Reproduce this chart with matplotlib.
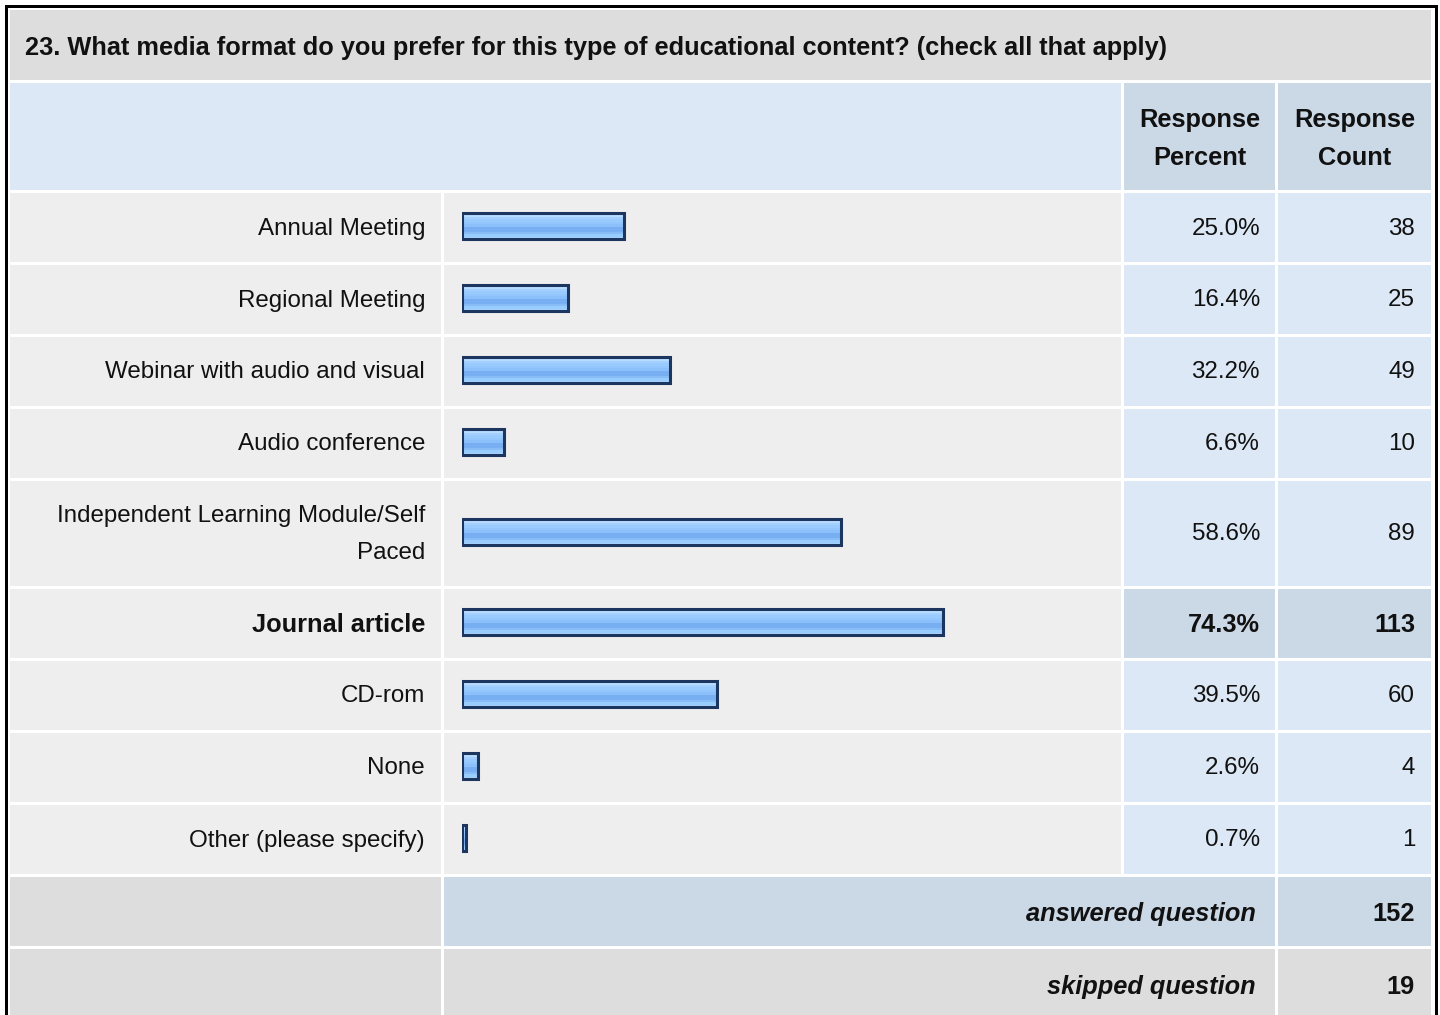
import matplotlib
matplotlib.use("Agg")
import matplotlib.pyplot as plt
from matplotlib.patches import Rectangle
import numpy as np

plt.rcParams['font.family'] = ['Liberation Sans', 'DejaVu Sans']

title = "23. What media format do you prefer for this type of educational content? (check all that apply)"
categories = ["Annual Meeting", "Regional Meeting", "Webinar with audio and visual",
              "Audio conference", "Independent Learning Module/Self\nPaced",
              "Journal article", "CD-rom", "None", "Other (please specify)"]
percents = [25.0, 16.4, 32.2, 6.6, 58.6, 74.3, 39.5, 2.6, 0.7]
counts = [38, 25, 49, 10, 89, 113, 60, 4, 1]
answered = 152
skipped = 19

W, H = 1440, 1015
fig = plt.figure(figsize=(W / 100, H / 100), dpi=100, facecolor="white")
ax = fig.add_axes([0, 0, 1, 1])
ax.set_xlim(0, W)
ax.set_ylim(H, 0)
ax.axis("off")

GREY = "#dddddd"
LIGHT = "#eeeeee"
BLUE = "#dce8f5"
BLUE2 = "#cbd8e6"
FS = 17.4
BFS = 18.3
TC = "#111111"

def cell(x0, x1, y0, y1, color):
    ax.add_patch(Rectangle((x0, y0), x1 - x0, y1 - y0, facecolor=color, edgecolor="none"))

C0 = (10, 441)
C1 = (444, 1121)
C2 = (1124, 1275)
C3 = (1278, 1431)

# title
cell(10, 1431, 10, 80, GREY)
ax.text(25, 48, title, fontsize=BFS, fontweight="bold", va="center", ha="left", color=TC)

# header
cell(10, 1121, 83, 190, BLUE)
cell(C2[0], C2[1], 83, 190, BLUE2)
cell(C3[0], C3[1], 83, 190, BLUE2)
for (c, l1, l2) in [(C2, "Response", "Percent"), (C3, "Response", "Count")]:
    xc = (c[0] + c[1]) / 2
    ax.text(xc, 120, l1, fontsize=BFS, fontweight="bold", ha="center", va="center", color=TC)
    ax.text(xc, 158, l2, fontsize=BFS, fontweight="bold", ha="center", va="center", color=TC)

row_tops = [193, 265, 337, 409, 481, 589, 661, 733, 805]
row_bots = [262, 334, 406, 478, 586, 658, 730, 802, 874]
imax = int(np.argmax(percents))
centers = []
for i, (t, b) in enumerate(zip(row_tops, row_bots)):
    cy = (t + b) / 2
    centers.append(cy - 1.5)
    cell(C0[0], C0[1], t, b, LIGHT)
    cell(C1[0], C1[1], t, b, LIGHT)
    hi = (i == imax)
    cell(C2[0], C2[1], t, b, BLUE2 if hi else BLUE)
    cell(C3[0], C3[1], t, b, BLUE2 if hi else BLUE)
    fw = "bold" if hi else "normal"
    fs = BFS if hi else FS
    lines = categories[i].split("\n")
    if len(lines) == 1:
        ax.text(425, cy + 1, lines[0], fontsize=fs, fontweight=fw, ha="right", va="center", color=TC)
    else:
        gap = 37
        y0 = cy + 1 - gap * (len(lines) - 1) / 2
        for k, ln in enumerate(lines):
            ax.text(425, y0 + k * gap, ln, fontsize=fs, fontweight=fw, ha="right",
                    va="center", color=TC)
    ax.text(1260, cy + 1, f"{percents[i]:.1f}%", fontsize=fs, fontweight=fw, ha="right",
            va="center", color=TC)
    ax.text(1415, cy + 1, f"{counts[i]}", fontsize=fs, fontweight=fw, ha="right",
            va="center", color=TC)

# footer
cell(C0[0], C0[1], 877, 946, GREY)
cell(C1[0], C2[1], 877, 946, BLUE2)
cell(C3[0], C3[1], 877, 946, BLUE2)
ax.text(1256, 914, "answered question", fontsize=BFS, fontweight="bold", style="italic",
        ha="right", va="center", color=TC)
ax.text(1415, 914, f"{answered}", fontsize=BFS, fontweight="bold", ha="right", va="center", color=TC)
cell(C0[0], C0[1], 949, 1020, GREY)
cell(C1[0], C2[1], 949, 1020, GREY)
cell(C3[0], C3[1], 949, 1020, GREY)
ax.text(1256, 987, "skipped question", fontsize=BFS, fontweight="bold", style="italic",
        ha="right", va="center", color=TC)
ax.text(1415, 987, f"{skipped}", fontsize=BFS, fontweight="bold", ha="right", va="center", color=TC)

# outer border
ax.add_line(plt.Line2D([5.5, 5.5, 1435.5, 1435.5], [H + 5, 6, 6, H + 5], color="black",
                       linewidth=3 * 0.72, solid_joinstyle="miter"))

# bars axis: x in percent, y in pixels
PX_PER_PCT = 6.48
x_start = 461.5
bax = fig.add_axes([x_start / W, 0, PX_PER_PCT * 100 / W, 1])
bax.set_xlim(0, 100)
bax.set_ylim(H, 0)
bax.axis("off")
bax.patch.set_alpha(0)

grad_cols = ["#d2eaff", "#b8dcff", "#a4d0ff", "#99cbff", "#92c6fd", "#8cc0fb",
             "#78aef2", "#78aef2", "#88bcf6", "#9acdff", "#a8d4ff"]
rgb = np.array([matplotlib.colors.to_rgb(c) for c in grad_cols])
grad = rgb[:, None, :]
BH = 26.5
for p, cy in zip(percents, centers):
    bars = bax.barh([cy], [p], height=BH, left=0, facecolor="none",
                    edgecolor="#1c3660", linewidth=2.2, zorder=3)
    im = bax.imshow(grad, extent=[0, p, cy + BH / 2, cy - BH / 2], aspect="auto",
                    interpolation="nearest", zorder=2)
    im.set_clip_path(bars.patches[0])

fig.savefig("out.png", dpi=100, facecolor="white")
